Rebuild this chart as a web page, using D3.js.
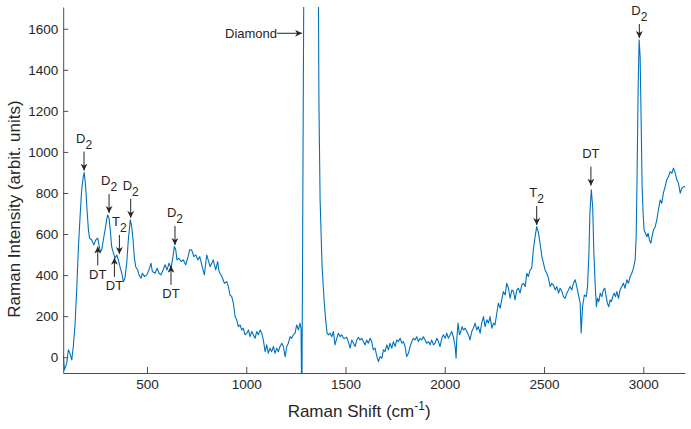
<!DOCTYPE html>
<html>
<head>
<meta charset="utf-8">
<script src="https://cdn.jsdelivr.net/npm/d3@7/dist/d3.min.js"></script>
<style>
  body { margin: 0; background: #fff; }
  svg { display: block; font-family: "Liberation Sans", Arial, sans-serif; }
  .axis path, .axis line { stroke: #4d4d4d; stroke-width: 1; }
  .axis text { fill: #262626; font-size: 13.5px; }
  .title { fill: #262626; font-size: 17px; }
  .ann text { fill: #262626; font-size: 13px; }
  .ann line { stroke: #262626; stroke-width: 1; }
</style>
</head>
<body>
<svg id="chart"></svg>
<script>
// Raman spectrum, values
const shift = [
  78, 84, 96, 104, 112, 121, 129, 138, 146, 154, 163, 171, 179, 184, 191, 198, 205, 211, 222, 232,
  242, 252, 258, 265, 272, 280, 289, 297, 302, 309, 315, 322, 331, 339, 348, 356, 364, 373, 381, 389,
  398, 406, 416, 423, 430, 436, 443, 453, 460, 470, 477, 487, 499, 510, 520, 527, 541, 551, 561, 571,
  581, 591, 601, 611, 621, 631, 638, 645, 651, 661, 672, 683, 695, 705, 715, 725, 736, 746, 756, 766,
  776, 789, 801, 818, 834, 846, 856, 863, 877, 890, 902, 910, 918, 927, 935, 944, 952, 960, 969, 977,
  985, 994, 1003, 1011, 1019, 1028, 1036, 1044, 1053, 1061, 1070, 1078, 1086, 1095, 1103, 1111, 1120, 1128, 1137, 1145,
  1154, 1162, 1170, 1179, 1187, 1196, 1204, 1212, 1221, 1229, 1237, 1246, 1254, 1263, 1271, 1276, 1280, 1300, 1358, 1366,
  1372, 1382, 1392, 1400, 1407, 1414, 1422, 1431, 1439, 1447, 1456, 1464, 1473, 1481, 1490, 1498, 1506, 1514, 1523, 1532,
  1540, 1548, 1557, 1565, 1573, 1582, 1590, 1599, 1607, 1615, 1624, 1632, 1640, 1649, 1658, 1666, 1674, 1683, 1691, 1699,
  1708, 1716, 1724, 1733, 1741, 1750, 1758, 1767, 1775, 1784, 1792, 1800, 1808, 1817, 1825, 1834, 1842, 1850, 1859, 1867,
  1876, 1884, 1892, 1901, 1909, 1918, 1926, 1934, 1943, 1951, 1960, 1968, 1976, 1985, 1993, 2002, 2010, 2018, 2027, 2035,
  2043, 2052, 2057, 2060, 2067, 2074, 2081, 2087, 2094, 2102, 2111, 2119, 2127, 2136, 2144, 2153, 2161, 2169, 2178, 2186,
  2195, 2203, 2212, 2220, 2228, 2237, 2245, 2253, 2262, 2270, 2279, 2287, 2295, 2304, 2312, 2321, 2329, 2338, 2346, 2354,
  2363, 2371, 2379, 2388, 2396, 2405, 2413, 2421, 2430, 2438, 2446, 2455, 2463, 2472, 2480, 2489, 2497, 2505, 2514, 2522,
  2531, 2539, 2547, 2556, 2564, 2573, 2581, 2590, 2598, 2606, 2615, 2623, 2631, 2640, 2648, 2657, 2665, 2674, 2682, 2687,
  2694, 2703, 2713, 2719, 2726, 2731, 2738, 2745, 2751, 2758, 2764, 2769, 2776, 2783, 2791, 2799, 2806, 2813, 2819, 2826,
  2833, 2839, 2846, 2853, 2860, 2867, 2875, 2883, 2892, 2900, 2908, 2917, 2925, 2934, 2942, 2950, 2959, 2964, 2969, 2974,
  2979, 2984, 2989, 2994, 2999, 3004, 3011, 3018, 3024, 3031, 3038, 3044, 3051, 3060, 3068, 3076, 3085, 3093, 3101, 3110,
  3118, 3127, 3135, 3144, 3152, 3161, 3169, 3177, 3186, 3194, 3203, 3211
];
const intensity = [
  11, -62, -29, 36, 19, -13, 52, 166, 328, 523, 685, 815, 880, 899, 831, 717, 620, 580, 571, 547,
  571, 580, 547, 514, 523, 571, 620, 669, 693, 677, 620, 539, 507, 482, 498, 474, 441, 409, 368, 385,
  458, 571, 669, 636, 571, 490, 441, 425, 401, 385, 409, 393, 401, 425, 458, 417, 409, 433, 409, 401,
  425, 450, 425, 458, 433, 490, 539, 523, 474, 482, 466, 474, 450, 482, 523, 523, 490, 498, 474, 490,
  450, 401, 498, 441, 474, 425, 466, 417, 393, 360, 368, 344, 303, 295, 263, 198, 182, 149, 157, 133,
  141, 109, 117, 133, 100, 125, 109, 92, 125, 109, 133, 117, 84, 27, 60, 19, 44, 27, 52, 19,
  44, 27, 52, 68, 52, 3, 52, 68, 100, 92, 109, 117, 157, 133, 166, 141, -300, 4000, 3000, 1253,
  766, 441, 280, 182, 117, 109, 117, 100, 125, 60, 92, 117, 100, 109, 92, 92, 97, 76, 44, 84,
  68, 52, 84, 97, 84, 92, 76, 60, 84, 68, 92, 76, 36, 44, 3, -21, 3, -5, 36, 27,
  60, 36, 68, 44, 76, 52, 84, 76, 92, 68, 76, 52, 3, 19, 52, 76, 92, 84, 100, 76,
  92, 84, 100, 84, 68, 76, 60, 84, 60, 68, 92, 76, 52, 92, 109, 92, 117, 92, 109, 125,
  101, 52, -5, 84, 166, 109, 125, 149, 133, 141, 125, 109, 84, 125, 141, 166, 133, 149, 117, 166,
  198, 149, 182, 166, 198, 141, 166, 157, 214, 263, 239, 279, 320, 303, 360, 336, 287, 328, 320, 279,
  328, 336, 312, 352, 360, 344, 409, 393, 425, 433, 523, 587, 636, 604, 555, 490, 458, 425, 409, 385,
  344, 360, 352, 328, 344, 312, 336, 320, 295, 287, 312, 328, 344, 328, 360, 377, 344, 300, 263, 118,
  246, 303, 295, 344, 507, 701, 815, 734, 507, 344, 246, 287, 271, 312, 295, 328, 336, 295, 263, 246,
  279, 271, 295, 312, 295, 320, 287, 328, 344, 360, 336, 377, 360, 393, 409, 433, 474, 587, 912, 1318,
  1546, 1464, 1156, 831, 701, 620, 604, 587, 604, 571, 555, 587, 620, 636, 669, 717, 766, 750, 799, 831,
  864, 880, 904, 896, 921, 896, 864, 848, 799, 823, 830, 831
];

const xTicks = [500, 1000, 1500, 2000, 2500, 3000];
const yTicks = [0, 200, 400, 600, 800, 1000, 1200, 1400, 1600];

// peak labels: base text, subscript, arrow tip (x, y), arrow direction, arrow length
const annLabel = ['D', 'D', 'D', 'T', 'DT', 'DT', 'D', 'DT', 'T', 'DT', 'D'];
const annSub   = ['2', '2', '2', '2', '', '', '2', '', '2', '', '2'];
const annX     = [183, 309, 418, 361, 252, 336, 641, 621, 2463, 2736, 2980];
const annY     = [909, 703, 679, 503, 539, 484, 547, 445, 644, 836, 1555];
const annDir   = ['down', 'down', 'down', 'down', 'up', 'up', 'down', 'up', 'down', 'down', 'down'];
const annLen   = [19, 19, 19, 19, 19, 19, 19, 19, 19, 19, 14];
const diamondX = 1281, diamondY = 1578;

const totalW = 691, totalH = 429;
const mg = { top: 7, right: 6, bottom: 56, left: 63.2 };
const W = totalW - mg.left - mg.right;
const H = totalH - mg.top - mg.bottom;

const svg = d3.select('#chart').attr('width', totalW).attr('height', totalH);
const defs = svg.append('defs');
defs.append('clipPath').attr('id', 'plotclip')
  .append('rect').attr('x', 0).attr('y', 0).attr('width', W).attr('height', H);
defs.append('marker').attr('id', 'head').attr('viewBox', '0 0 10 10')
  .attr('refX', 10).attr('refY', 5).attr('markerWidth', 7).attr('markerHeight', 7)
  .attr('markerUnits', 'userSpaceOnUse').attr('orient', 'auto')
  .append('path').attr('d', 'M0,0 L10,5 L0,10 L3,5 Z').attr('fill', '#262626');

const g = svg.append('g').attr('transform', `translate(${mg.left},${mg.top})`);

const x = d3.scaleLinear().domain([78, 3210]).range([0, W]);
const y = d3.scaleLinear().domain([-77, 1706]).range([H, 0]);

const data = shift.map((s, i) => ({ x: s, y: intensity[i] }));

g.append('path').datum(data)
  .attr('clip-path', 'url(#plotclip)')
  .attr('fill', 'none').attr('stroke', '#0072BD').attr('stroke-width', 1.1)
  .attr('stroke-linejoin', 'round')
  .attr('d', d3.line().x((d) => x(d.x)).y((d) => y(d.y)));

g.append('g').attr('class', 'axis').attr('transform', `translate(0,${H})`)
  .call(d3.axisBottom(x).tickValues(xTicks).tickFormat(d3.format('d'))
    .tickSizeInner(-6).tickSizeOuter(0).tickPadding(6));
g.append('g').attr('class', 'axis')
  .call(d3.axisLeft(y).tickValues(yTicks).tickFormat(d3.format('d'))
    .tickSizeInner(-5).tickSizeOuter(0).tickPadding(5));

// axis titles
const xt = svg.append('text').attr('class', 'title').attr('text-anchor', 'middle')
  .attr('x', mg.left + W / 2 - 15).attr('y', 417);
xt.append('tspan').text('Raman Shift (cm');
xt.append('tspan').attr('font-size', '12px').attr('dy', -7).text('-1');
xt.append('tspan').attr('dy', 7).text(')');

svg.append('text').attr('class', 'title').attr('text-anchor', 'middle')
  .attr('transform', `translate(20,${mg.top + H / 2 + 19}) rotate(-90)`)
  .text('Raman Intensity (arbit. units)');

// peak annotations
const ann = g.append('g').attr('class', 'ann');
annLabel.forEach((lab, i) => {
  const ax = x(annX[i]), tip = y(annY[i]);
  const down = annDir[i] === 'down';
  const tail = down ? tip - annLen[i] : tip + annLen[i];
  ann.append('line').attr('x1', ax).attr('y1', tail).attr('x2', ax).attr('y2', tip)
    .attr('marker-end', 'url(#head)');
  const t = ann.append('text').attr('text-anchor', 'middle')
    .attr('x', ax).attr('y', down ? tail - 9 : tail + 13);
  t.append('tspan').text(lab);
  if (annSub[i]) t.append('tspan').attr('font-size', '12px').attr('dy', 6).text(annSub[i]);
});

const dTip = x(diamondX), dY = y(diamondY);
ann.append('line').attr('x1', dTip - 25).attr('y1', dY).attr('x2', dTip).attr('y2', dY)
  .attr('marker-end', 'url(#head)');
ann.append('text').attr('text-anchor', 'end').attr('x', dTip - 25).attr('y', dY + 4.5)
  .text('Diamond');
</script>
</body>
</html>
